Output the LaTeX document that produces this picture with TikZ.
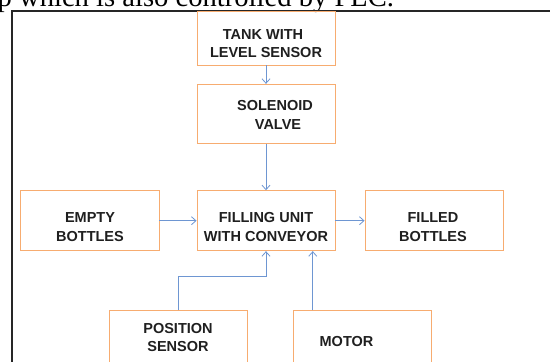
\documentclass[tikz,border=0pt]{standalone}
\usepackage{fontspec}
\setmainfont{Liberation Sans}
\newfontfamily\serifx{Liberation Serif}
\usetikzlibrary{arrows.meta}
\definecolor{boxorange}{RGB}{247,172,112}
\definecolor{arrblue}{RGB}{110,150,210}
\tikzset{
  box/.style={draw=boxorange, line width=0.9pt, fill=none, inner sep=0pt},
  txt/.style={font=\bfseries\fontsize{14.5}{17}\selectfont, anchor=base, inner sep=0pt, text=black!88},
  arr/.style={draw=arrblue, line width=0.8pt, -{Straight Barb[length=4.5pt,width=8pt,line width=0.8pt]}},
}
\begin{document}
\begin{tikzpicture}[x=1pt,y=-1pt]
\useasboundingbox (0,0) rectangle (550,362);
\begin{scope}
\clip (0,0) rectangle (550,362);
% cut-off caption text at top
\node[anchor=base west, inner sep=0pt, font=\serifx\fontsize{28.6}{30}\selectfont] (cap) at (-2.5,6.5) {p which is also controlled by PLC.};
% frame
\draw[line width=1.8pt, black!85] (12.3,400) -- (12.3,10.7) -- (600,10.7);
% boxes
\node[box, minimum width=138pt, minimum height=53.3pt] (tank) at (266,38.35) {};
\node[box, minimum width=138pt, minimum height=59pt] (sol) at (266,113.8) {};
\node[box, minimum width=138pt, minimum height=60pt] (fill) at (266,220.7) {};
\node[box, minimum width=138.3pt, minimum height=60pt] (empty) at (89.85,220.7) {};
\node[box, minimum width=138pt, minimum height=60pt] (filled) at (434,220.7) {};
\node[box, minimum width=138pt, minimum height=80pt] (pos) at (178,350.7) {};
\node[box, minimum width=137.3pt, minimum height=80pt] (motor) at (362.35,350.7) {};
% texts
\node[txt] (t1) at (263,39) {TANK WITH};
\node[txt] (t2) at (266,57.3) {LEVEL SENSOR};
\node[txt] (s1) at (275,110) {SOLENOID};
\node[txt] (s2) at (278,129) {VALVE};
\node[txt] (f1) at (266,222.3) {FILLING UNIT};
\node[txt] (f2) at (266,241) {WITH CONVEYOR};
\node[txt] (e1) at (90,222.3) {EMPTY};
\node[txt] (e2) at (90,241) {BOTTLES};
\node[txt] (d1) at (433,222.3) {FILLED};
\node[txt] (d2) at (433,241) {BOTTLES};
\node[txt] (p1) at (178,333.3) {POSITION};
\node[txt] (p2) at (178,351.7) {SENSOR};
\node[txt] (m1) at (346.5,346.5) {MOTOR};
% connectors
\draw[arr] (tank.south) -- (sol.north);
\draw[arr] (sol.south) -- (fill.north);
\draw[arr] (empty.east) -- (fill.west);
\draw[arr] (fill.east) -- (filled.west);
\coordinate (bend) at (178,276.7);
\draw[arr] (pos.north) -- (bend) -| (fill.south);
\draw[arr] ([xshift=-49.6pt]motor.north) -- ([xshift=-49.6pt]motor.north |- fill.south);
\end{scope}
\end{tikzpicture}
\end{document}
